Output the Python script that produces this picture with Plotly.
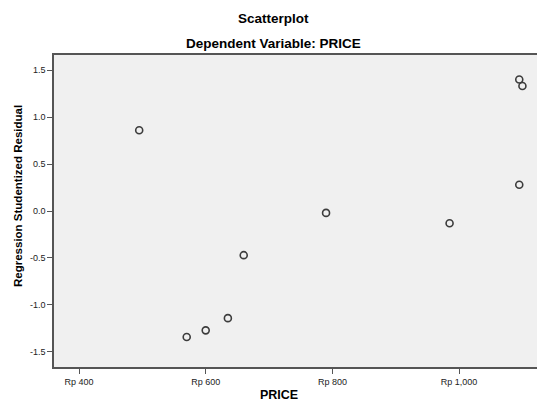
import plotly.graph_objects as go

price = [495, 570, 600, 635, 660, 790, 985, 1095, 1100, 1095]
residual = [0.86, -1.34, -1.27, -1.14, -0.47, -0.02, -0.13, 1.40, 1.33, 0.28]

x_tickvals = [400, 600, 800, 1000]
x_ticktext = ["Rp 400", "Rp 600", "Rp 800", "Rp 1,000"]
y_tickvals = [-1.5, -1.0, -0.5, 0.0, 0.5, 1.0, 1.5]
y_ticktext = ["-1.5", "-1.0", "-0.5", "0.0", "0.5", "1.0", "1.5"]

W, H = 537, 403
L, R, T, B = 54, 0, 55, 36
PW, PH = W - L - R, H - T - B

def px(xp):
    return (xp - L) / PW

def py(yp):
    return 1 - (yp - T) / PH

fig = go.Figure()
fig.add_trace(go.Scatter(
    x=price, y=residual, mode="markers",
    marker=dict(symbol="circle-open", size=7, color="#3c3c3c", line=dict(width=1.6)),
    showlegend=False,
))

font = "Liberation Sans, Arial, sans-serif"
fig.update_layout(
    width=W, height=H,
    margin=dict(l=L, r=R, t=T, b=B, autoexpand=False),
    paper_bgcolor="white",
    plot_bgcolor="#F0F0F0",
    font=dict(family=font, color="#000000"),
)
fig.add_annotation(text="<b>Scatterplot</b>", xref="paper", yref="paper",
                   x=px(273), y=py(19), showarrow=False,
                   font=dict(size=13.5, family=font), xanchor="center", yanchor="middle")
fig.add_annotation(text="<b>Dependent Variable: PRICE</b>", xref="paper", yref="paper",
                   x=px(273), y=py(44), showarrow=False,
                   font=dict(size=13.5, family=font), xanchor="center", yanchor="middle")
fig.add_annotation(text="<b>PRICE</b>", xref="paper", yref="paper",
                   x=px(279), y=py(395), showarrow=False,
                   font=dict(size=12.5, family=font), xanchor="center", yanchor="middle")
fig.add_annotation(text="<b>Regression Studentized Residual</b>", xref="paper", yref="paper",
                   x=px(18), y=py(196), showarrow=False, textangle=-90,
                   font=dict(size=11.5, family=font), xanchor="center", yanchor="middle")

fig.update_xaxes(
    range=[360.5, 1123], tickvals=x_tickvals, ticktext=x_ticktext,
    showgrid=False, zeroline=False, automargin=False,
    showline=True, linecolor="#555555", linewidth=1.5, mirror=True,
    ticks="outside", ticklen=5, tickcolor="#555555", tickwidth=1,
    tickfont=dict(size=9, family=font, color="#222222"),
)
fig.update_yaxes(
    range=[-1.66, 1.66], tickvals=y_tickvals, ticktext=y_ticktext,
    showgrid=False, zeroline=False, automargin=False,
    showline=True, linecolor="#555555", linewidth=1.5, mirror=True,
    ticks="outside", ticklen=5, tickcolor="#555555", tickwidth=1,
    tickfont=dict(size=9, family=font, color="#222222"),
)

fig.write_html(
    "out.html",
    config={"displayModeBar": False},
    post_script="document.body.style.margin='0';document.body.style.overflow='hidden';",
)
